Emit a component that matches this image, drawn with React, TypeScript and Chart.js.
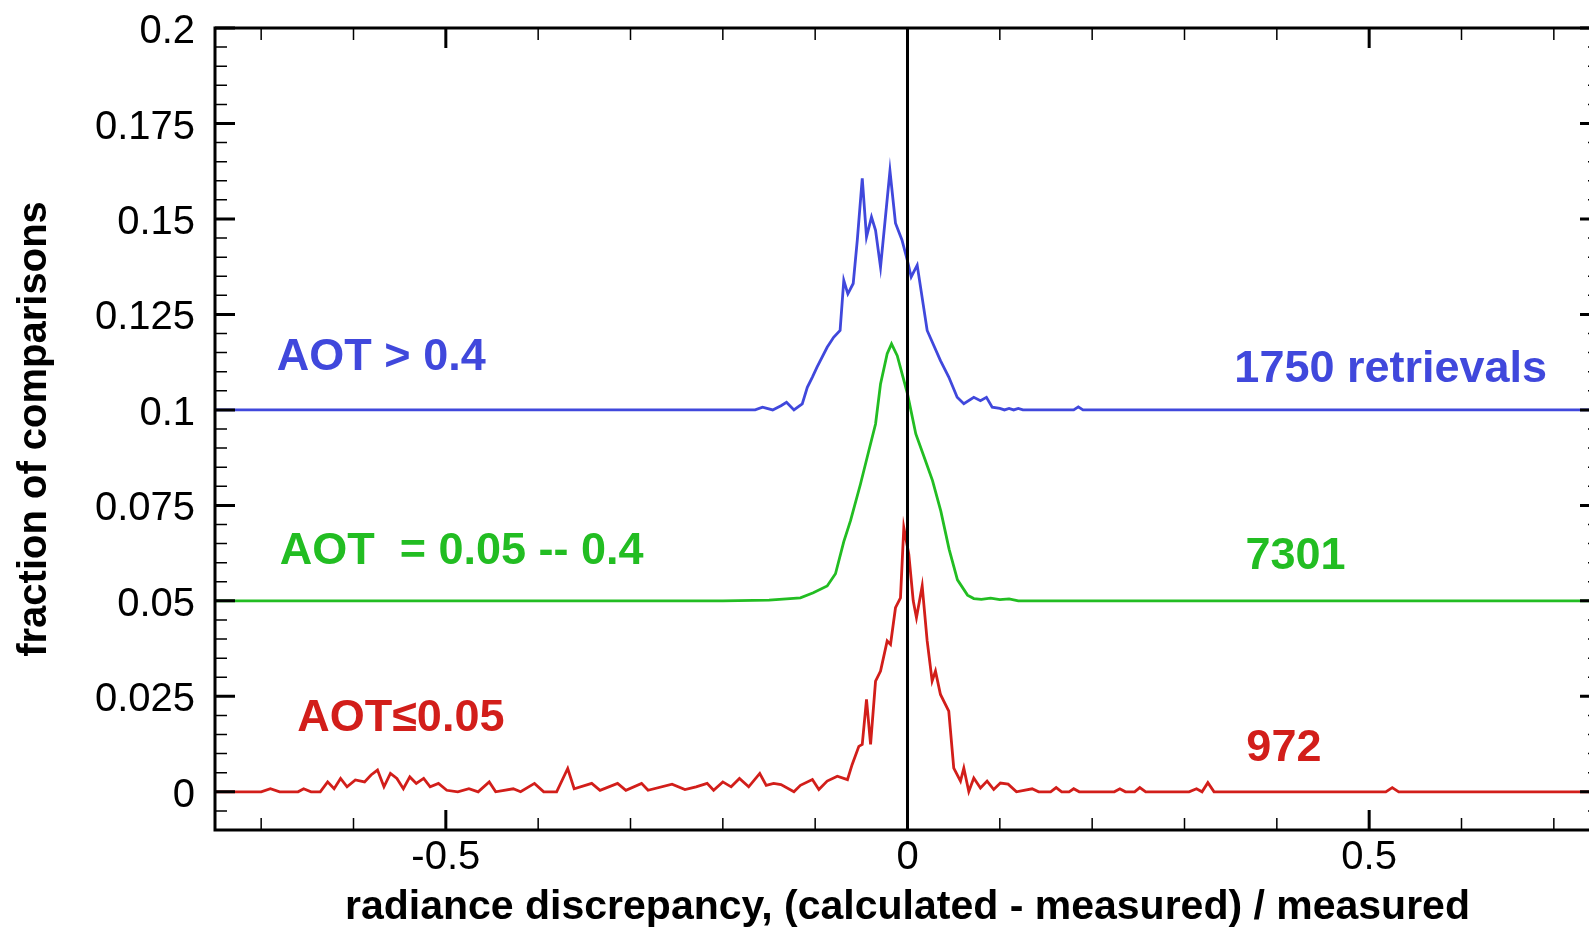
import React, { useEffect, useRef } from 'react';
import { Chart, registerables } from 'chart.js';

Chart.register(...registerables);

// ---------- data ----------
const seriesNames = ['AOT > 0.4', 'AOT  = 0.05 -- 0.4', 'AOT\u22640.05'];
const seriesCounts = ['1750 retrievals', '7301', '972'];
const seriesOffsets = [0.1, 0.05, 0];
const seriesColors = ['#4048dc', '#22bd22', '#d21e1a'];

// fraction of comparisons vs radiance discrepancy, AOT > 0.4
const highAot: [number, number][] = [
  [-0.75, 0], [-0.165, 0], [-0.157, 0.0007], [-0.146, 0], [-0.137, 0.0011], [-0.131, 0.002],
  [-0.123, 0], [-0.114, 0.0016], [-0.1085, 0.0059], [-0.103, 0.0086], [-0.098, 0.0112],
  [-0.087, 0.0164], [-0.08, 0.019], [-0.073, 0.0208], [-0.069, 0.0339], [-0.0646, 0.0304],
  [-0.0588, 0.0331], [-0.0544, 0.0444], [-0.049, 0.0606], [-0.0444, 0.0453], [-0.039, 0.0505],
  [-0.0346, 0.047], [-0.0292, 0.0374], [-0.019, 0.0626], [-0.013, 0.0489], [-0.006, 0.0445],
  [0, 0.039], [0.004, 0.0348], [0.0105, 0.0379], [0.0213, 0.0208], [0.0357, 0.0129],
  [0.0447, 0.0086], [0.0538, 0.0033], [0.061, 0.0016], [0.0718, 0.0033], [0.079, 0.0024],
  [0.0855, 0.0033], [0.0917, 0.0007], [0.1, 0.0004], [0.105, 0], [0.11, 0.0004], [0.115, 0],
  [0.12, 0.0004], [0.125, 0], [0.18, 0], [0.185, 0.0008], [0.19, 0], [0.75, 0],
];

// AOT = 0.05 -- 0.4
const midAot: [number, number][] = [
  [-0.75, 0], [-0.2, 0], [-0.15, 0.0002], [-0.116, 0.0008], [-0.102, 0.0021], [-0.087, 0.0039],
  [-0.078, 0.0071], [-0.069, 0.0155], [-0.0617, 0.021], [-0.0509, 0.0306], [-0.0419, 0.0393],
  [-0.0346, 0.0463], [-0.0292, 0.0568], [-0.022, 0.0647], [-0.0173, 0.0673], [-0.0111, 0.0642],
  [0, 0.0542], [0.009, 0.0437], [0.0181, 0.0376], [0.0271, 0.0315], [0.0361, 0.0235],
  [0.0451, 0.0135], [0.0541, 0.0055], [0.065, 0.0015], [0.0718, 0.0006], [0.08, 0.0004],
  [0.09, 0.0007], [0.1, 0.0003], [0.11, 0.0005], [0.12, 0], [0.75, 0],
];

// AOT <= 0.05
const lowAot: [number, number][] = [
  [-0.75, 0], [-0.7, 0], [-0.69, 0.0008], [-0.68, 0], [-0.66, 0], [-0.654, 0.0008], [-0.646, 0],
  [-0.636, 0], [-0.628, 0.0026], [-0.621, 0.0008], [-0.614, 0.0035], [-0.607, 0.0013],
  [-0.598, 0.0031], [-0.588, 0.0026], [-0.581, 0.0044], [-0.574, 0.0057], [-0.567, 0.0013],
  [-0.56, 0.0048], [-0.553, 0.0035], [-0.546, 0.0008], [-0.539, 0.0039], [-0.532, 0.0022],
  [-0.524, 0.0035], [-0.517, 0.0013], [-0.508, 0.0022], [-0.499, 0.0004], [-0.487, 0],
  [-0.475, 0.0008], [-0.465, 0], [-0.453, 0.0026], [-0.446, 0], [-0.427, 0.0008], [-0.419, 0],
  [-0.404, 0.0022], [-0.394, 0], [-0.38, 0], [-0.368, 0.0061], [-0.361, 0.0008], [-0.342, 0.0022],
  [-0.333, 0.0004], [-0.314, 0.0022], [-0.305, 0.0004], [-0.288, 0.0022], [-0.281, 0.0004],
  [-0.255, 0.002], [-0.241, 0.0006], [-0.229, 0.0013], [-0.217, 0.0022], [-0.21, 0.0004],
  [-0.2, 0.0026], [-0.191, 0.0013], [-0.182, 0.0035], [-0.172, 0.0013], [-0.16, 0.0048],
  [-0.153, 0.0017], [-0.145, 0.0022], [-0.137, 0.0019], [-0.123, 0], [-0.116, 0.0017],
  [-0.103, 0.0032], [-0.096, 0.0006], [-0.087, 0.0028], [-0.076, 0.0041], [-0.065, 0.0032],
  [-0.06, 0.0071], [-0.0527, 0.0119], [-0.049, 0.0124], [-0.0444, 0.0242], [-0.04, 0.0124],
  [-0.0346, 0.029], [-0.0292, 0.0316], [-0.022, 0.0395], [-0.0184, 0.0386], [-0.013, 0.0482],
  [-0.0076, 0.0508], [-0.004, 0.0692], [0.0014, 0.0622], [0.0062, 0.05], [0.0097, 0.0456],
  [0.0159, 0.0539], [0.0213, 0.0395], [0.0267, 0.029], [0.0303, 0.0316], [0.0357, 0.0255],
  [0.0447, 0.0211], [0.0501, 0.0062], [0.0574, 0.0028], [0.061, 0.0062], [0.0664, 0.0001],
  [0.0718, 0.0036], [0.079, 0.001], [0.0862, 0.0028], [0.0934, 0.0006], [0.1006, 0.0023],
  [0.109, 0.002], [0.118, 0], [0.135, 0.0008], [0.142, 0], [0.155, 0], [0.161, 0.0011],
  [0.167, 0], [0.175, 0], [0.18, 0.0008], [0.186, 0], [0.224, 0], [0.23, 0.0008], [0.236, 0],
  [0.246, 0], [0.2516, 0.0011], [0.258, 0], [0.305, 0], [0.313, 0.0008], [0.319, 0],
  [0.3253, 0.0024], [0.332, 0], [0.518, 0], [0.525, 0.0011], [0.532, 0], [0.75, 0],
];

const seriesData = [highAot, midAot, lowAot];

const xTickValues = [-0.5, 0, 0.5];
const xTickLabels = ['-0.5', '0', '0.5'];
const yTickValues = [0, 0.025, 0.05, 0.075, 0.1, 0.125, 0.15, 0.175, 0.2];
const yTickLabels = ['0', '0.025', '0.05', '0.075', '0.1', '0.125', '0.15', '0.175', '0.2'];

const xAxisTitle = 'radiance discrepancy, (calculated - measured) / measured';
const yAxisTitle = 'fraction of comparisons';

// label anchors in data units
const nameAnchors: [number, number][] = [[-0.683, 0.1137], [-0.68, 0.0628], [-0.661, 0.0191]];
const countAnchors: [number, number][] = [[0.354, 0.1106], [0.366, 0.0616], [0.367, 0.0114]];

const FONT = '"Liberation Sans", Arial, Helvetica, sans-serif';

const overlayPlugin = {
  id: 'overlay',
  afterDatasetsDraw(chart: any) {
    const { ctx, chartArea: a, scales } = chart;
    const xs = scales.x;
    const ys = scales.y;
    ctx.save();
    ctx.strokeStyle = '#000';
    ctx.lineCap = 'butt';

    // zero line
    ctx.lineWidth = 3;
    const x0 = xs.getPixelForValue(0);
    ctx.beginPath();
    ctx.moveTo(x0, a.top);
    ctx.lineTo(x0, a.bottom);
    ctx.stroke();

    // ticks (inward), minor and major
    const drawX = (v: number, len: number, w: number) => {
      const px = xs.getPixelForValue(v);
      ctx.lineWidth = w;
      ctx.beginPath();
      ctx.moveTo(px, a.bottom);
      ctx.lineTo(px, a.bottom - len);
      ctx.moveTo(px, a.top);
      ctx.lineTo(px, a.top + len);
      ctx.stroke();
    };
    const drawY = (v: number, len: number, w: number) => {
      const py = ys.getPixelForValue(v);
      ctx.lineWidth = w;
      ctx.beginPath();
      ctx.moveTo(a.left, py);
      ctx.lineTo(a.left + len, py);
      ctx.moveTo(a.right, py);
      ctx.lineTo(a.right - len, py);
      ctx.stroke();
    };
    for (let i = -7; i <= 7; i++) {
      if (i % 5 !== 0) drawX(i / 10, 12, 1.5);
    }
    xTickValues.forEach((v) => drawX(v, 20, 3));
    for (let i = -2; i <= 40; i++) {
      if (i % 5 !== 0) drawY(i * 0.005, 12, 1.5);
    }
    yTickValues.forEach((v) => drawY(v, 20, 3));

    // frame
    ctx.lineWidth = 3;
    ctx.strokeRect(a.left, a.top, a.right - a.left, a.bottom - a.top);

    // text labels
    ctx.font = `bold 45px ${FONT}`;
    ctx.textBaseline = 'middle';
    ctx.textAlign = 'left';
    seriesNames.forEach((name, i) => {
      ctx.fillStyle = seriesColors[i];
      ctx.fillText(name, xs.getPixelForValue(nameAnchors[i][0]), ys.getPixelForValue(nameAnchors[i][1]));
      ctx.fillText(
        seriesCounts[i],
        xs.getPixelForValue(countAnchors[i][0]),
        ys.getPixelForValue(countAnchors[i][1])
      );
    });
    ctx.restore();
  },
};

export default function App() {
  const ref = useRef<HTMLCanvasElement>(null);

  useEffect(() => {
    const canvas = ref.current;
    if (!canvas) return;
    const chart = new Chart(canvas, {
      type: 'line',
      data: {
        datasets: seriesData.map((pts, i) => ({
          label: seriesNames[i],
          data: pts.map(([x, y]) => ({ x, y: y + seriesOffsets[i] })),
          borderColor: seriesColors[i],
          borderWidth: 2.8,
          pointRadius: 0,
          tension: 0,
          fill: false,
        })),
      },
      options: {
        animation: false,
        responsive: false,
        events: [],
        layout: { padding: { left: 0, top: 28, right: 12, bottom: 0 } },
        plugins: { legend: { display: false }, tooltip: { enabled: false }, title: { display: false } },
        scales: {
          x: {
            type: 'linear',
            min: -0.75,
            max: 0.75,
            grid: { display: false, drawTicks: false },
            border: { display: false },
            afterBuildTicks: (s: any) => {
              s.ticks = xTickValues.map((v) => ({ value: v }));
            },
            afterFit: (s: any) => {
              s.height = 98;
              s.paddingLeft = 0;
              s.paddingRight = 0;
            },
            ticks: {
              callback: (_v: any, i: number) => xTickLabels[i],
              font: { family: FONT, size: 40, lineHeight: 1 },
              color: '#000',
              padding: 8,
              maxRotation: 0,
              autoSkip: false,
            },
            title: {
              display: true,
              text: xAxisTitle,
              color: '#000',
              font: { family: FONT, size: 41, weight: 'bold', lineHeight: 1 },
              padding: { top: 0, bottom: 0 },
            },
          },
          y: {
            type: 'linear',
            min: -0.01,
            max: 0.2,
            grid: { display: false, drawTicks: false },
            border: { display: false },
            afterBuildTicks: (s: any) => {
              s.ticks = yTickValues.map((v) => ({ value: v }));
            },
            afterFit: (s: any) => {
              s.width = 215;
              s.paddingTop = 0;
              s.paddingBottom = 0;
            },
            ticks: {
              callback: (_v: any, i: number) => yTickLabels[i],
              font: { family: FONT, size: 40, lineHeight: 1 },
              color: '#000',
              padding: 20,
              labelOffset: 4,
              autoSkip: false,
            },
            title: {
              display: true,
              text: yAxisTitle,
              color: '#000',
              font: { family: FONT, size: 40, weight: 'bold', lineHeight: 1 },
              padding: { top: 15, bottom: 0 },
            },
          },
        },
      },
      plugins: [overlayPlugin],
    } as any);
    return () => chart.destroy();
  }, []);

  return (
    <div
      style={{
        position: 'fixed',
        left: 0,
        top: 0,
        width: 1589,
        height: 928,
        overflow: 'hidden',
        background: '#fff',
      }}
    >
      <canvas ref={ref} width={1612} height={928} style={{ display: 'block' }} />
    </div>
  );
}
